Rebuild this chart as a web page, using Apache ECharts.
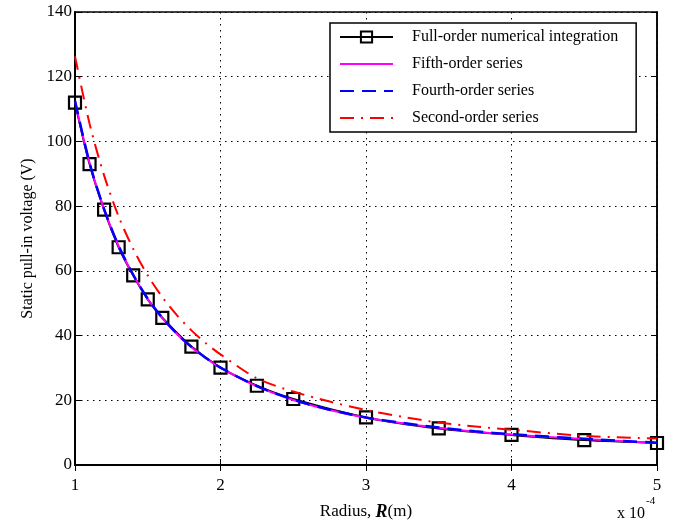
<!DOCTYPE html>
<html><head><meta charset="utf-8">
<script src="https://cdn.jsdelivr.net/npm/echarts@6/dist/echarts.min.js"></script>
<style>html,body{margin:0;padding:0;background:#fff}#c{width:679px;height:526px}</style>
</head><body><div id="c"></div>
<script>
// Data (x in units of 1e-4 m)
var fullX = [1.0, 1.1, 1.2, 1.3, 1.4, 1.5, 1.6, 1.8, 2.0, 2.25, 2.5, 3.0, 3.5, 4.0, 4.5, 5.0];
var fullY = [112.0, 93.0, 78.9, 67.3, 58.6, 51.2, 45.5, 36.6, 30.1, 24.5, 20.4, 14.7, 11.3, 9.3, 7.7, 6.8];
var curveX = [1.0, 1.1, 1.2, 1.3, 1.4, 1.5, 1.6, 1.7, 1.8, 1.9, 2.0, 2.25, 2.5, 2.75, 3.0, 3.25, 3.5, 3.75, 4.0, 4.5, 5.0];
var fifthY = [112.5, 93.3, 79.0, 67.6, 58.7, 51.3, 45.4, 40.5, 36.4, 33.0, 30.0, 24.3, 20.1, 17.0, 14.6, 12.9, 11.5, 10.3, 9.4, 8.0, 6.8];
var fourthY = [112.6, 93.4, 79.1, 67.7, 58.8, 51.4, 45.5, 40.6, 36.5, 33.1, 30.1, 24.4, 20.2, 17.1, 14.7, 13.0, 11.6, 10.4, 9.5, 8.1, 6.9];
var secondY = [126.3, 105.5, 89.5, 76.8, 66.8, 58.6, 51.9, 46.3, 41.6, 37.6, 34.2, 26.8, 22.7, 19.6, 17.0, 14.9, 13.1, 11.9, 10.9, 9.0, 8.2];
var names = ['Full-order numerical integration', 'Fifth-order series', 'Fourth-order series', 'Second-order series'];
var yTicks = [0, 20, 40, 60, 80, 100, 120, 140];
var xTicks = [1, 2, 3, 4, 5];

function pairs(xs, ys) { return xs.map(function (x, i) { return [x, ys[i]]; }); }

var serif = '"Liberation Serif", "DejaVu Serif", serif';
var chart = echarts.init(document.getElementById('c'));
var dotted = { show: true, lineStyle: { color: '#000', type: [1.5, 4.5], width: 1 } };
chart.setOption({
  animation: false,
  backgroundColor: '#fff',
  grid: { left: 75, right: 22, top: 12, bottom: 58, show: true, borderColor: '#000', borderWidth: 1.5 },
  legend: {
    orient: 'vertical', left: 330, top: 23,
    data: [
      { name: names[0] },
      { name: names[1], itemStyle: { opacity: 0 } },
      { name: names[2], itemStyle: { opacity: 0 } },
      { name: names[3], itemStyle: { opacity: 0 } }
    ],
    itemWidth: 53, itemHeight: 14, itemGap: 11,
    padding: [6, 18, 6, 9],
    borderColor: '#000', borderWidth: 1.5, backgroundColor: '#fff',
    textStyle: { fontFamily: serif, fontSize: 16, color: '#000', padding: [0, 0, 0, 14] }
  },
  xAxis: [{
    type: 'value', min: xTicks[0], max: xTicks[xTicks.length - 1], interval: 1,
    axisLine: { show: true, lineStyle: { color: '#000', width: 2 } },
    axisTick: { show: true, inside: true, length: 6, lineStyle: { color: '#000' } },
    axisLabel: { fontFamily: serif, fontSize: 17, color: '#000', margin: 12 },
    splitLine: dotted,
    name: '{a|Radius, }{b|R}{a|(m)}', nameLocation: 'middle', nameGap: 38,
    nameTextStyle: { rich: {
      a: { fontFamily: serif, fontSize: 17, color: '#000' },
      b: { fontFamily: serif, fontSize: 18, fontWeight: 'bold', fontStyle: 'italic', color: '#000' } } }
  }, {
    type: 'value', position: 'top', min: 1, max: 5, interval: 1,
    axisLine: { show: true, lineStyle: { color: '#000', width: 1.5 } },
    axisTick: { show: true, inside: true, length: 6, lineStyle: { color: '#000' } },
    axisLabel: { show: false }, splitLine: { show: false }
  }],
  yAxis: [{
    type: 'value', min: yTicks[0], max: yTicks[yTicks.length - 1], interval: 20,
    axisLine: { show: true, lineStyle: { color: '#000', width: 2 } },
    axisTick: { show: true, inside: true, length: 6, lineStyle: { color: '#000' } },
    axisLabel: { fontFamily: serif, fontSize: 17, color: '#000', margin: 3 },
    splitLine: dotted,
    name: 'Static pull-in voltage (V)', nameLocation: 'middle', nameGap: 37,
    nameTextStyle: { fontFamily: serif, fontSize: 16, color: '#000' }
  }, {
    type: 'value', position: 'right', min: 0, max: 140, interval: 20,
    axisLine: { show: true, lineStyle: { color: '#000', width: 1.5 } },
    axisTick: { show: true, inside: true, length: 6, lineStyle: { color: '#000' } },
    axisLabel: { show: false }, splitLine: { show: false }
  }],
  graphic: [{
    type: 'text', left: 617, top: 496,
    style: { text: '{a|x 10}{s|-4}', rich: {
      a: { fontFamily: serif, fontSize: 16, fill: '#000', padding: [10, 0, 0, 0] },
      s: { fontFamily: serif, fontSize: 11, fill: '#000', verticalAlign: 'top', padding: [0, 0, 12, 1] } } }
  }],
  series: [{
    name: names[0], type: 'line', data: pairs(fullX, fullY), z: 2,
    symbol: 'rect', symbolSize: 12, showAllSymbol: true,
    itemStyle: { color: 'rgba(0,0,0,0)', borderColor: '#000', borderWidth: 2.2 },
    lineStyle: { color: '#000', width: 2 }, smooth: 0.3
  }, {
    name: names[1], type: 'line', data: pairs(curveX, fifthY), z: 3,
    symbol: 'none', itemStyle: { color: '#ff00ff' }, lineStyle: { color: '#ff00ff', width: 2 }, smooth: 0.3
  }, {
    name: names[2], type: 'line', data: pairs(curveX, fourthY), z: 4,
    symbol: 'none', itemStyle: { color: '#0000ff' }, lineStyle: { color: '#0000ff', width: 2.5, type: [14, 8] }, smooth: 0.3
  }, {
    name: names[3], type: 'line', data: pairs(curveX, secondY), z: 5,
    symbol: 'none', itemStyle: { color: '#ff0000' }, lineStyle: { color: '#ff0000', width: 2, type: [14, 7, 2, 7] }, smooth: 0.3
  }]
});
</script></body></html>
